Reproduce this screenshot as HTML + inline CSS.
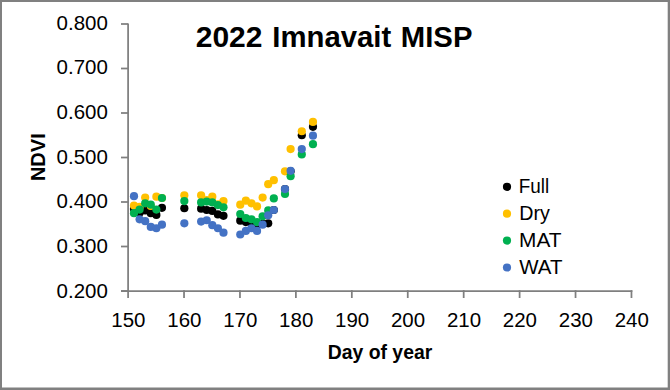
<!DOCTYPE html>
<html><head><meta charset="utf-8">
<style>
html,body{margin:0;padding:0;background:#fff;}
body{width:670px;height:390px;overflow:hidden;position:relative;}
svg{position:absolute;left:0;top:0;}
.t{font-family:"Liberation Sans",sans-serif;font-size:19.5px;fill:#000;}
.b{font-family:"Liberation Sans",sans-serif;font-weight:bold;fill:#000;}
</style></head><body>
<svg width="670" height="390" viewBox="0 0 670 390">
<rect x="0" y="0" width="670" height="390" fill="#fff"/>
<g fill="#808080"><rect x="0" y="0" width="670" height="2"/><rect x="0" y="0" width="2" height="390"/><rect x="667.7" y="0" width="2.3" height="390"/><rect x="0" y="387.5" width="670" height="2.5"/></g>
<line x1="128.1" y1="23.5" x2="128.1" y2="291.9" stroke="#7f7f7f" stroke-width="1.75"/><line x1="121" y1="291" x2="632.37" y2="291" stroke="#7f7f7f" stroke-width="1.75"/><line x1="121" y1="291.00" x2="128.1" y2="291.00" stroke="#7f7f7f" stroke-width="1.75"/><line x1="121" y1="246.50" x2="128.1" y2="246.50" stroke="#7f7f7f" stroke-width="1.75"/><line x1="121" y1="202.00" x2="128.1" y2="202.00" stroke="#7f7f7f" stroke-width="1.75"/><line x1="121" y1="157.50" x2="128.1" y2="157.50" stroke="#7f7f7f" stroke-width="1.75"/><line x1="121" y1="113.00" x2="128.1" y2="113.00" stroke="#7f7f7f" stroke-width="1.75"/><line x1="121" y1="68.50" x2="128.1" y2="68.50" stroke="#7f7f7f" stroke-width="1.75"/><line x1="121" y1="24.00" x2="128.1" y2="24.00" stroke="#7f7f7f" stroke-width="1.75"/><line x1="128.10" y1="290.2" x2="128.10" y2="298" stroke="#7f7f7f" stroke-width="1.75"/><line x1="184.03" y1="290.2" x2="184.03" y2="298" stroke="#7f7f7f" stroke-width="1.75"/><line x1="239.96" y1="290.2" x2="239.96" y2="298" stroke="#7f7f7f" stroke-width="1.75"/><line x1="295.89" y1="290.2" x2="295.89" y2="298" stroke="#7f7f7f" stroke-width="1.75"/><line x1="351.82" y1="290.2" x2="351.82" y2="298" stroke="#7f7f7f" stroke-width="1.75"/><line x1="407.75" y1="290.2" x2="407.75" y2="298" stroke="#7f7f7f" stroke-width="1.75"/><line x1="463.68" y1="290.2" x2="463.68" y2="298" stroke="#7f7f7f" stroke-width="1.75"/><line x1="519.61" y1="290.2" x2="519.61" y2="298" stroke="#7f7f7f" stroke-width="1.75"/><line x1="575.54" y1="290.2" x2="575.54" y2="298" stroke="#7f7f7f" stroke-width="1.75"/><line x1="631.47" y1="290.2" x2="631.47" y2="298" stroke="#7f7f7f" stroke-width="1.75"/>
<text transform="translate(107.8,297.80) scale(1.05,1)" text-anchor="end" class="t">0.200</text><text transform="translate(107.8,253.11) scale(1.05,1)" text-anchor="end" class="t">0.300</text><text transform="translate(107.8,208.42) scale(1.05,1)" text-anchor="end" class="t">0.400</text><text transform="translate(107.8,163.73) scale(1.05,1)" text-anchor="end" class="t">0.500</text><text transform="translate(107.8,119.04) scale(1.05,1)" text-anchor="end" class="t">0.600</text><text transform="translate(107.8,74.35) scale(1.05,1)" text-anchor="end" class="t">0.700</text><text transform="translate(107.8,29.66) scale(1.05,1)" text-anchor="end" class="t">0.800</text><text transform="translate(128.40,327) scale(1.05,1)" text-anchor="middle" class="t">150</text><text transform="translate(184.33,327) scale(1.05,1)" text-anchor="middle" class="t">160</text><text transform="translate(240.26,327) scale(1.05,1)" text-anchor="middle" class="t">170</text><text transform="translate(296.19,327) scale(1.05,1)" text-anchor="middle" class="t">180</text><text transform="translate(352.12,327) scale(1.05,1)" text-anchor="middle" class="t">190</text><text transform="translate(408.05,327) scale(1.05,1)" text-anchor="middle" class="t">200</text><text transform="translate(463.98,327) scale(1.05,1)" text-anchor="middle" class="t">210</text><text transform="translate(519.91,327) scale(1.05,1)" text-anchor="middle" class="t">220</text><text transform="translate(575.84,327) scale(1.05,1)" text-anchor="middle" class="t">230</text><text transform="translate(631.77,327) scale(1.05,1)" text-anchor="middle" class="t">240</text>
<g class="b" style="font-size:30px"><text transform="translate(195.7,47.2)">2022</text><text transform="translate(272.3,47.2) scale(0.977,1)">Imnavait</text><text transform="translate(400.8,47.2) scale(0.977,1)">MISP</text></g>
<text transform="translate(380,359.2) scale(0.995,1)" text-anchor="middle" class="b" style="font-size:19.5px">Day of year</text>
<text transform="translate(45.1,157.2) rotate(-90)" text-anchor="middle" class="b" style="font-size:20px">NDVI</text>
<circle cx="507" cy="186.80" r="4.1" fill="#000000"/><text transform="translate(518.70,193.40) scale(0.97,1)" class="t">Full</text><circle cx="507" cy="213.70" r="4.1" fill="#FFC000"/><text transform="translate(519.30,220.30) scale(1.01,1)" class="t">Dry</text><circle cx="507" cy="240.60" r="4.1" fill="#00B050"/><text transform="translate(519.00,247.20) scale(1.07,1)" class="t">MAT</text><circle cx="507" cy="267.50" r="4.1" fill="#4472C4"/><text transform="translate(519.20,274.10) scale(1.05,1)" class="t">WAT</text>
<g fill="#000000"><circle cx="133.99" cy="209.12" r="4.1"/><circle cx="139.59" cy="212.69" r="4.1"/><circle cx="145.18" cy="210.46" r="4.1"/><circle cx="150.77" cy="213.13" r="4.1"/><circle cx="156.37" cy="214.91" r="4.1"/><circle cx="161.96" cy="207.79" r="4.1"/><circle cx="184.33" cy="208.23" r="4.1"/><circle cx="201.11" cy="208.68" r="4.1"/><circle cx="206.70" cy="210.01" r="4.1"/><circle cx="212.30" cy="210.90" r="4.1"/><circle cx="217.89" cy="214.46" r="4.1"/><circle cx="223.48" cy="215.80" r="4.1"/><circle cx="240.26" cy="220.69" r="4.1"/><circle cx="245.85" cy="222.03" r="4.1"/><circle cx="251.45" cy="223.37" r="4.1"/><circle cx="257.04" cy="224.70" r="4.1"/><circle cx="262.63" cy="223.81" r="4.1"/><circle cx="268.22" cy="223.37" r="4.1"/><circle cx="273.82" cy="210.01" r="4.1"/><circle cx="285.00" cy="189.10" r="4.1"/><circle cx="290.60" cy="171.30" r="4.1"/><circle cx="301.78" cy="135.25" r="4.1"/><circle cx="312.97" cy="126.80" r="4.1"/></g><g fill="#FFC000"><circle cx="133.99" cy="205.56" r="4.1"/><circle cx="139.59" cy="206.90" r="4.1"/><circle cx="145.18" cy="197.56" r="4.1"/><circle cx="150.77" cy="206.01" r="4.1"/><circle cx="156.37" cy="196.67" r="4.1"/><circle cx="161.96" cy="198.00" r="4.1"/><circle cx="184.33" cy="195.33" r="4.1"/><circle cx="201.11" cy="195.33" r="4.1"/><circle cx="206.70" cy="200.22" r="4.1"/><circle cx="212.30" cy="196.67" r="4.1"/><circle cx="217.89" cy="204.23" r="4.1"/><circle cx="223.48" cy="201.11" r="4.1"/><circle cx="240.26" cy="204.67" r="4.1"/><circle cx="245.85" cy="200.67" r="4.1"/><circle cx="251.45" cy="203.34" r="4.1"/><circle cx="257.04" cy="206.45" r="4.1"/><circle cx="262.63" cy="197.56" r="4.1"/><circle cx="268.22" cy="184.20" r="4.1"/><circle cx="273.82" cy="180.20" r="4.1"/><circle cx="285.00" cy="171.30" r="4.1"/><circle cx="290.60" cy="149.05" r="4.1"/><circle cx="301.78" cy="131.25" r="4.1"/><circle cx="312.97" cy="121.91" r="4.1"/></g><g fill="#00B050"><circle cx="133.99" cy="213.13" r="4.1"/><circle cx="139.59" cy="209.57" r="4.1"/><circle cx="145.18" cy="203.34" r="4.1"/><circle cx="150.77" cy="204.67" r="4.1"/><circle cx="156.37" cy="209.57" r="4.1"/><circle cx="161.96" cy="198.00" r="4.1"/><circle cx="184.33" cy="201.11" r="4.1"/><circle cx="201.11" cy="202.45" r="4.1"/><circle cx="206.70" cy="201.56" r="4.1"/><circle cx="212.30" cy="202.45" r="4.1"/><circle cx="217.89" cy="205.12" r="4.1"/><circle cx="223.48" cy="207.34" r="4.1"/><circle cx="240.26" cy="214.02" r="4.1"/><circle cx="245.85" cy="218.02" r="4.1"/><circle cx="251.45" cy="219.36" r="4.1"/><circle cx="257.04" cy="222.03" r="4.1"/><circle cx="262.63" cy="216.25" r="4.1"/><circle cx="268.22" cy="210.46" r="4.1"/><circle cx="273.82" cy="198.44" r="4.1"/><circle cx="285.00" cy="194.00" r="4.1"/><circle cx="290.60" cy="176.19" r="4.1"/><circle cx="301.78" cy="154.39" r="4.1"/><circle cx="312.97" cy="144.15" r="4.1"/></g><g fill="#4472C4"><circle cx="133.99" cy="196.22" r="4.1"/><circle cx="139.59" cy="219.36" r="4.1"/><circle cx="145.18" cy="221.14" r="4.1"/><circle cx="150.77" cy="226.93" r="4.1"/><circle cx="156.37" cy="228.26" r="4.1"/><circle cx="161.96" cy="224.70" r="4.1"/><circle cx="184.33" cy="223.37" r="4.1"/><circle cx="201.11" cy="221.58" r="4.1"/><circle cx="206.70" cy="220.25" r="4.1"/><circle cx="212.30" cy="225.15" r="4.1"/><circle cx="217.89" cy="228.26" r="4.1"/><circle cx="223.48" cy="232.71" r="4.1"/><circle cx="240.26" cy="234.49" r="4.1"/><circle cx="245.85" cy="230.93" r="4.1"/><circle cx="251.45" cy="228.26" r="4.1"/><circle cx="257.04" cy="230.93" r="4.1"/><circle cx="262.63" cy="224.70" r="4.1"/><circle cx="268.22" cy="215.35" r="4.1"/><circle cx="273.82" cy="210.01" r="4.1"/><circle cx="285.00" cy="189.10" r="4.1"/><circle cx="290.60" cy="170.86" r="4.1"/><circle cx="301.78" cy="149.05" r="4.1"/><circle cx="312.97" cy="135.70" r="4.1"/></g>
</svg>
</body></html>
